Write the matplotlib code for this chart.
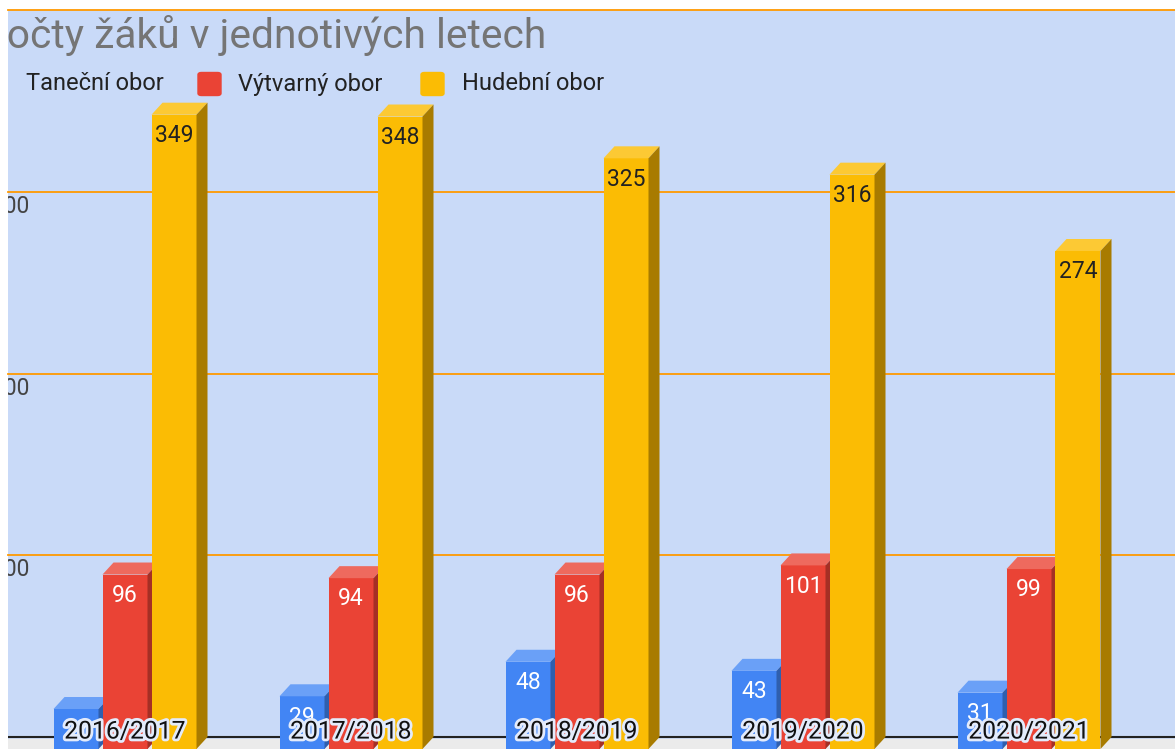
import numpy as np
import matplotlib
matplotlib.use("Agg")
import matplotlib.pyplot as plt
from matplotlib.patches import Polygon, FancyBboxPatch
import matplotlib.patheffects as pe

years = ["2016/2017", "2017/2018", "2018/2019", "2019/2020", "2020/2021"]
series = ["Taneční obor", "Výtvarný obor", "Hudební obor"]
tanecni = [22, 29, 48, 43, 31]
vytvarny = [96, 94, 96, 101, 99]
hudebni = [349, 348, 325, 316, 274]
values = [tanecni, vytvarny, hudebni]

front = ["#4285f4", "#ea4335", "#fbbc04"]
top = ["#6aa0f7", "#ee6a5e", "#fcc934"]
side = ["#2f5fae", "#a52f25", "#a87b00"]
label_col = ["white", "white", "#222222"]

plt.rcParams['font.family'] = ['Roboto', 'DejaVu Sans']

W, H = 1175, 749
fig = plt.figure(figsize=(W / 100, H / 100), dpi=100, facecolor="white")
ax = fig.add_axes([8 / W, 0, 1 - 8 / W, 739 / H])
ax.set_facecolor("#c9daf8")
for s in ax.spines.values():
    s.set_visible(False)
ax.set_xticks([])
ax.set_yticks([])

ymax = 400
ppu = 727 / ymax          # pixels per data unit
dy = 12 / ppu             # 3d depth (vertical)
dx = 11 / 226             # 3d depth (horizontal)
ax.set_ylim(-dy, ymax)
ax.set_xlim(-117 / 226, (1175 - 125) / 226)

# floor + baseline
ax.axhspan(-dy, -1.0, color="#ebebeb", zorder=0)
ax.axhline(0, color="#222222", lw=1.5, zorder=1)
for g in [100, 200, 300, 400]:
    ax.axhline(g, color="#ff9900", lw=1.3, zorder=1, clip_on=False)
for g in [100, 200, 300]:
    ax.text(21 / 1167, g - 8, str(g), transform=ax.get_yaxis_transform(),
            ha="right", va="center", fontsize=16.5, color="#444444", clip_on=True)

w = 45 / 226
off = 49 / 226
x = np.arange(len(years))
z = 2
for gi in range(len(years)):
    for si in range(3):
        v = values[si][gi]
        x0 = x[gi] + (si - 1) * off - w / 2
        x1 = x0 + w
        ax.bar(x0, v, bottom=-dy, width=w, align="edge", color=front[si], zorder=z)
        ax.add_patch(Polygon([(x0, v - dy), (x1, v - dy), (x1 + dx, v), (x0 + dx, v)],
                             closed=True, color=top[si], zorder=z, lw=0))
        ax.add_patch(Polygon([(x1, -dy), (x1 + dx, 0), (x1 + dx, v), (x1, v - dy)],
                             closed=True, color=side[si], zorder=z, lw=0))
        ax.text((x0 + x1) / 2, v - 18, str(v), ha="center", va="center",
                fontsize=16.5, color=label_col[si], zorder=z + 0.5)
        z += 1

# category labels with halo
for gi, yr in enumerate(years):
    ax.text(x[gi], 3, yr, ha="center", va="center", fontsize=17.8, color="#111111",
            zorder=100, path_effects=[pe.withStroke(linewidth=4, foreground="#e3ebfb")])


def axf(px, py):
    return ((px - 8) / 1167, (749 - py) / 739)


# title (cut at the left edge)
tx, ty = axf(-19, 36)
ax.text(tx, ty, "Počty žáků v jednotivých letech", transform=ax.transAxes,
        ha="left", va="center", fontsize=29.3, color="#757575", clip_on=True, zorder=100)

# legend
sq = 23
leg = [(-17, 26), (198, 238), (421, 462)]
for si, (sx, tx_) in enumerate(leg):
    x0a, y0a = axf(sx, 84 + sq / 2)
    x1a, y1a = axf(sx + sq, 84 - sq / 2)
    ax.add_patch(FancyBboxPatch((x0a, y0a), x1a - x0a, y1a - y0a,
                                boxstyle="round,pad=0,rounding_size=0.003",
                                transform=ax.transAxes, color=front[si], zorder=100,
                                clip_on=True, mutation_aspect=1))
    lx, ly = axf(tx_, 84)
    ax.text(lx, ly, series[si], transform=ax.transAxes, ha="left", va="center",
            fontsize=17, color="#222222", clip_on=True, zorder=100)

fig.savefig("out.png", dpi=100, facecolor="white")
